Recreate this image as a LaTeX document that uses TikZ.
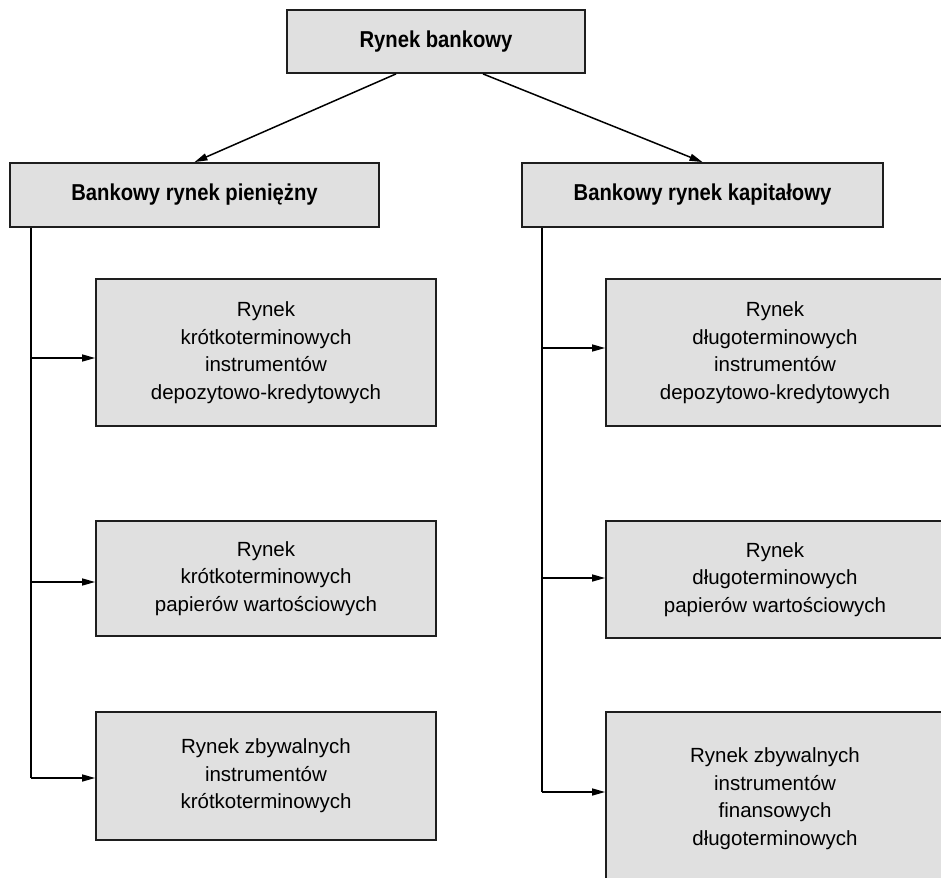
\documentclass[tikz,border=0pt]{standalone}
\usepackage{fontspec}
\setmainfont{Liberation Sans}[BoldFeatures={FakeStretch=0.88}]
\usetikzlibrary{arrows.meta,positioning,calc}
\definecolor{boxfill}{RGB}{224,224,224}
\definecolor{boxline}{RGB}{30,30,30}

\begin{document}
\begin{tikzpicture}[x=1pt,y=-1pt,
    market/.style={draw=boxline,line width=1.8pt,fill=boxfill,inner sep=0pt,
        align=center,font=\fontsize{20.5}{27.5}\selectfont},
    head/.style={market,font=\fontsize{23}{27}\selectfont\bfseries},
    wire/.style={line width=1.5pt},
    link/.style={wire,-{Triangle[length=13pt,width=7pt]}}]

\useasboundingbox (0,0) rectangle (941,877);

% Banking market
\node[head,minimum width=298pt,minimum height=63pt] (bank) at (436,41.5) {Rynek bankowy};

% Money and capital markets
\node[head,minimum width=369pt,minimum height=64pt] (pien) at (194.5,195) {Bankowy rynek pieniężny};
\node[head,minimum width=361pt,minimum height=64pt] (kap) at (702.5,195) {Bankowy rynek kapitałowy};

\draw[link] ([xshift=-40pt]bank.south) -- (pien.north);
\draw[link] ([xshift=47pt]bank.south) -- (kap.north);

% Short-term segments
\node[market,minimum width=340pt,minimum height=147pt] (kr1) at (266,352.5) {
    Rynek\\krótkoterminowych\\instrumentów\\depozytowo-kredytowych};
\node[market,minimum width=340pt,minimum height=115pt] (kr2) at (266,578.5) {
    Rynek\\krótkoterminowych\\papierów wartościowych};
\node[market,minimum width=340pt,minimum height=128pt] (kr3) at (266,776) {
    Rynek zbywalnych\\instrumentów\\krótkoterminowych};

% Long-term segments
\node[market,minimum width=338pt,minimum height=147pt] (dl1) at (775,352.5) {
    Rynek\\długoterminowych\\instrumentów\\depozytowo-kredytowych};
\node[market,minimum width=338pt,minimum height=117pt] (dl2) at (775,579.5) {
    Rynek\\długoterminowych\\papierów wartościowych};
\node[market,minimum width=338pt,minimum height=173pt] (dl3) at (775,798.5) {
    Rynek zbywalnych\\instrumentów\\finansowych\\długoterminowych};

% Left branch
\coordinate (spineL) at ([xshift=22pt]pien.south west);
\foreach \mk/\dy in {kr1/-5.5, kr2/-3.5, kr3/-2} {
    \coordinate (\mk in) at ([yshift=\dy pt]\mk.west);
}
\draw[wire] (spineL) -- (spineL |- kr3in);
\foreach \mk in {kr1,kr2,kr3} {
    \draw[link] (spineL |- \mk in) -- (\mk in);
}

% Right branch
\coordinate (spineR) at ([xshift=21pt]kap.south west);
\foreach \mk/\dy in {dl1/4.5, dl2/1.5, dl3/6.5} {
    \coordinate (\mk in) at ([yshift=\dy pt]\mk.west);
}
\draw[wire] (spineR) -- (spineR |- dl3in);
\foreach \mk in {dl1,dl2,dl3} {
    \draw[link] (spineR |- \mk in) -- (\mk in);
}

\end{tikzpicture}
\end{document}
